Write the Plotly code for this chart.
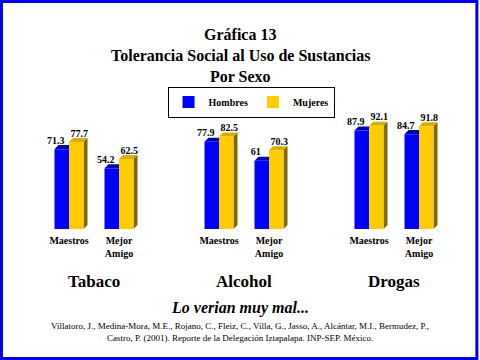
import plotly.graph_objects as go

# ---- data ----
categories = ["Maestros", "Mejor<br>Amigo", "Maestros", "Mejor<br>Amigo", "Maestros", "Mejor<br>Amigo"]
positions = [0, 1, 3, 4, 6, 7]
groups = ["Tabaco", "Alcohol", "Drogas"]
group_pos = [0.5, 3.5, 6.5]
hombres = [71.3, 54.2, 77.9, 61, 87.9, 84.7]
mujeres = [77.7, 62.5, 82.5, 70.3, 92.1, 91.8]
hombres_lbl = ["71.3", "54.2", "77.9", "61", "87.9", "84.7"]
mujeres_lbl = ["77.7", "62.5", "82.5", "70.3", "92.1", "91.8"]
title_lines = ["Gráfica 13", "Tolerancia Social al Uso de Sustancias", "Por Sexo"]

BLUE = "#0000FF"
YELLOW = "#FFCC00"
BW = 0.29          # bar width in x units
DX = 0.08          # 3D depth x (data units)
DY = 3.6           # 3D depth y (data units)
SERIF = "Liberation Serif"

fig = go.Figure()
fig.add_trace(go.Bar(x=positions, y=hombres, name="<b>Hombres</b>", marker_color=BLUE,
                     marker_line_width=0, width=BW, offset=-BW))
fig.add_trace(go.Bar(x=positions, y=mujeres, name="<b>Mujeres</b>", marker_color=YELLOW,
                     marker_line_width=0, width=BW, offset=0))

# value labels
fig.add_trace(go.Scatter(x=[p - BW / 2 - 0.12 for p in positions], y=[v + DY - 1 for v in hombres],
                         text=[f"<b>{t}</b>" for t in hombres_lbl], mode="text", textposition="top center",
                         textfont=dict(family=SERIF, size=10, color="black"),
                         showlegend=False, hoverinfo="skip"))
fig.add_trace(go.Scatter(x=[p + BW / 2 + 0.06 for p in positions], y=[v + DY - 1 for v in mujeres],
                         text=[f"<b>{t}</b>" for t in mujeres_lbl], mode="text", textposition="top center",
                         textfont=dict(family=SERIF, size=10, color="black"),
                         showlegend=False, hoverinfo="skip"))

shapes = []
def para(pts, color):
    path = "M " + " L ".join(f"{x},{y}" for x, y in pts) + " Z"
    return dict(type="path", path=path, xref="x", yref="y", fillcolor=color,
                line=dict(width=0), layer="below")

for p, h, m in zip(positions, hombres, mujeres):
    x0, x1 = p - BW, p
    shapes.append(para([(x0, h), (x0 + DX, h + DY), (x1 + DX, h + DY), (x1, h)], "#0000B0"))
    x0, x1 = p, p + BW
    shapes.append(para([(x0, m), (x0 + DX, m + DY), (x1 + DX, m + DY), (x1, m)], "#D9AE00"))
    shapes.append(para([(x1, 0), (x1 + DX, DY), (x1 + DX, m + DY), (x1, m)], "#7F6A00"))

# frame
shapes.append(dict(type="rect", xref="paper", yref="paper", x0=0.003, y0=0.004, x1=0.9935, y1=0.996,
                   line=dict(color="#0000EE", width=3), layer="above"))

annotations = []
for line, ypx in zip(title_lines, [35, 55.5, 76]):
    annotations.append(dict(x=0.5, y=(360 - ypx) / 360, xref="paper", yref="paper", yanchor="middle",
                            text=f"<b>{line}</b>", showarrow=False,
                            font=dict(family=SERIF, size=16, color="black")))
for g, gp in zip(groups, group_pos):
    annotations.append(dict(x=gp, y=(360 - 281) / 360, xref="x", yref="paper", text=f"<b>{g}</b>",
                            yanchor="middle", showarrow=False,
                            font=dict(family=SERIF, size=17, color="black")))
annotations.append(dict(x=0.5, y=(360 - 308) / 360, xref="paper", yref="paper", yanchor="middle",
                        text="<b><i>Lo verian muy mal...</i></b>", showarrow=False,
                        font=dict(family=SERIF, size=16, color="black")))
annotations.append(dict(x=0.5, y=(360 - 332) / 360, xref="paper", yref="paper", yanchor="middle",
                        text="Villatoro, J., Medina-Mora, M.E., Rojano, C., Fleiz, C., Villa, G., Jasso, A., Alcántar, M.I., Bermudez, P.,<br>"
                             "Castro, P. (2001). Reporte de la Delegación Iztapalapa. INP-SEP. México.",
                        showarrow=False, font=dict(family=SERIF, size=9, color="black")))

fig.update_layout(
    width=480, height=360,
    margin=dict(l=0, r=0, t=0, b=0),
    paper_bgcolor="white", plot_bgcolor="rgba(0,0,0,0)",
    font=dict(family=SERIF),
    barmode="overlay",
    showlegend=True,
    legend=dict(orientation="h", x=0.523, y=(360 - 102) / 360, xanchor="center", yanchor="middle",
                bordercolor="black", borderwidth=1, bgcolor="white",
                font=dict(family=SERIF, size=10, color="black"),
                itemwidth=30, traceorder="normal"),
    xaxis=dict(range=[-1.38, 8.22], domain=[0, 1], tickvals=positions,
               ticktext=[f"<b>{c.replace('<br>', '</b><br><b>')}</b>" for c in categories],
               showgrid=False, zeroline=False, showline=False, ticks="", ticklabelstandoff=4,
               tickfont=dict(family=SERIF, size=10, color="black")),
    yaxis=dict(range=[0, 229 / 1.12], domain=[131 / 360, 1], visible=False, showgrid=False),
    shapes=shapes, annotations=annotations,
)

fig.write_html("out.html", config={"displayModeBar": False},
               post_script="document.body.style.margin='0';")
